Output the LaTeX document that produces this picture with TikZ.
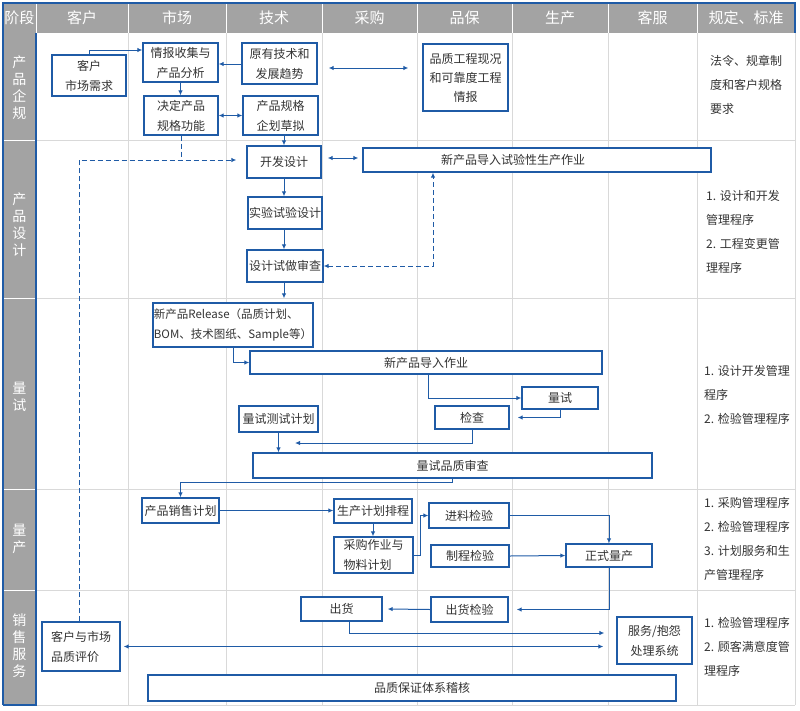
\documentclass[tikz,border=0pt]{standalone}
\usepackage{fontspec}
\setmainfont{Noto Sans CJK SC}
\usetikzlibrary{arrows.meta,calc}
\definecolor{bl}{HTML}{1F5BA6}
\definecolor{hdr}{HTML}{A3A3A3}
\definecolor{grd}{HTML}{D9D9D9}
\definecolor{txt}{HTML}{333333}
\newcommand\fsz[2]{\fontsize{#1}{#2}\selectfont}
\begin{document}
\begin{tikzpicture}[x=1pt,y=-1pt,
 box/.style={draw=bl,line width=1.3pt,fill=white,inner sep=0pt,align=center,font=\fsz{12}{20},text=txt},
 arr/.style={draw=bl,line width=1pt,-{Latex[length=5pt,width=4.5pt]}},
 darr/.style={draw=bl,line width=1pt,{Latex[length=5pt,width=4.5pt]}-{Latex[length=5pt,width=4.5pt]}},
 dsh/.style={dash pattern=on 5pt off 3pt},
 hd/.style={text=white,font=\fsz{15}{17}},
 stg/.style={text=white,font=\fsz{14}{17},align=center},
 reg/.style={anchor=north west,inner sep=0pt,align=left,font=\fsz{12}{24},text=txt}]
\useasboundingbox (0,0) rectangle (800,710);
% grid
\fill[hdr] (3,3) rectangle (795,33);
\fill[hdr] (3,33) rectangle (36,705);
\foreach \x in {128,226,322,417,512,608,697,795} \draw[grd,line width=1pt] (\x,33) -- (\x,705);
\foreach \y in {140,298,489,590,705} \draw[grd,line width=1pt] (36,\y) -- (795,\y);
\foreach \x in {36,128,226,322,417,512,608,697} \draw[white,line width=1pt] (\x,3) -- (\x,33);
\foreach \y in {140,298,489,590} \draw[white,line width=1pt] (3,\y) -- (36,\y);
\draw[bl,line width=1.5pt] (3,705) -- (3,3) -- (795,3) -- (795,33);
\draw[bl,line width=1.5pt] (36,33) -- (36,705) -- (3,705);
% header
\node[hd] (h0) at (19.5,18) {阶段};
\node[hd] (h1) at (82,18) {客户};
\node[hd] (h2) at (177,18) {市场};
\node[hd] (h3) at (274,18) {技术};
\node[hd] (h4) at (369.5,18) {采购};
\node[hd] (h5) at (464.5,18) {品保};
\node[hd] (h6) at (560,18) {生产};
\node[hd] (h7) at (652.5,18) {客服};
\node[hd] (h8) at (746,18) {规定、标准};
% stages
\node[stg] (s1) at (19.5,88) {产\\品\\企\\规};
\node[stg] (s2) at (19.5,225) {产\\品\\设\\计};
\node[stg] (s3) at (19.5,397) {量\\试};
\node[stg] (s4) at (19.5,539) {量\\产};
\node[stg] (s5) at (19.5,646) {销\\售\\服\\务};
% regulations
\node[reg] (r1) at (710,55) {法令、规章制\\度和客户规格\\要求};
\node[reg] (r2) at (706,190) {1. 设计和开发\\管理程序\\2. 工程变更管\\理程序};
\node[reg] (r3) at (704,365) {1. 设计开发管理\\程序\\2. 检验管理程序};
\node[reg] (r4) at (704,497) {1. 采购管理程序\\2. 检验管理程序\\3. 计划服务和生\\产管理程序};
\node[reg] (r5) at (704,617) {1. 检验管理程序\\2. 顾客满意度管\\理程序};
% row 1
\node[box,minimum width=74pt,minimum height=41pt] (n1) at (89,75.5) {客户\\市场需求};
\node[box,minimum width=75pt,minimum height=39pt] (n2) at (180.5,62.5) {情报收集与\\产品分析};
\node[box,minimum width=75pt,minimum height=41pt] (n3) at (279.5,63.5) {原有技术和\\发展趋势};
\node[box,minimum width=74pt,minimum height=39pt] (n4) at (181,115.5) {决定产品\\规格功能};
\node[box,minimum width=75pt,minimum height=39pt] (n5) at (280.5,115.5) {产品规格\\企划草拟};
\node[box,minimum width=85pt,minimum height=67pt,font=\fsz{12}{19}] (n6) at (465.5,77.5) {品质工程现况\\和可靠度工程\\情报};
% row 2
\node[box,minimum width=74pt,minimum height=32pt] (n7) at (284,162) {开发设计};
\node[box,minimum width=348pt,minimum height=24pt] (n8) at (537,160) {新产品导入试验性生产作业\hspace*{48pt}};
\node[box,minimum width=74pt,minimum height=32pt] (n9) at (285,213) {实验试验设计};
\node[box,minimum width=76pt,minimum height=32pt] (n10) at (285,266) {设计试做审查};
% row 3
\node[box,minimum width=160pt,minimum height=44pt,align=left,font=\fsz{11.5}{20}] (n11) at (233,325) {新产品Release（品质计划、\\BOM、技术图纸、Sample等）};
\node[box,minimum width=352pt,minimum height=23pt] (n12) at (426,362.5) {新产品导入作业};
\node[box,minimum width=76pt,minimum height=22pt] (n13) at (560,398) {量试};
\node[box,minimum width=74pt,minimum height=23pt] (n14) at (472,417.5) {检查};
\node[box,minimum width=79pt,minimum height=26pt] (n15) at (278.5,419) {量试测试计划};
\node[box,minimum width=399pt,minimum height=25pt] (n16) at (452.5,465.5) {量试品质审查};
% row 4
\node[box,minimum width=77pt,minimum height=25pt] (n17) at (180.5,510.5) {产品销售计划};
\node[box,minimum width=78pt,minimum height=24pt] (n18) at (373,511) {生产计划排程};
\node[box,minimum width=79pt,minimum height=36pt,align=left] (n19) at (373.5,555) {采购作业与\\物料计划};
\node[box,minimum width=80pt,minimum height=25pt] (n20) at (469,515.5) {进料检验};
\node[box,minimum width=78pt,minimum height=22pt] (n21) at (470,556) {制程检验};
\node[box,minimum width=86pt,minimum height=23pt] (n22) at (609,555.5) {正式量产};
% row 5
\node[box,minimum width=81pt,minimum height=24pt] (n23) at (341.5,609) {出货};
\node[box,minimum width=77pt,minimum height=25pt] (n24) at (469.5,609.5) {出货检验};
\node[box,minimum width=75pt,minimum height=47pt] (n25) at (654.5,640.5) {服务/抱怨\\处理系统};
\node[box,minimum width=78pt,minimum height=49pt,align=left] (n26) at (81,646.5) {客户与市场\\品质评价};
\node[box,minimum width=528pt,minimum height=26pt] (n27) at (412,688) {\hspace*{20pt}品质保证体系稽核};
\coordinate (c15) at (295,443);
% connectors row 1
\draw[arr] (n1.north) |- (n2.west |- 0,50);
\draw[arr] (n3.west |- 0,64) -- (n2.east |- 0,64);
\draw[arr] (n2.south) -- (n2.south |- n4.north);
\draw[darr] (n4.east) -- (n5.west);
\draw[darr] ($(n3.east |- 0,68)+(11,0)$) -- ($(n6.west |- 0,68)+(-14,0)$);
\draw[arr] (n7.north |- n5.south) -- (n7.north);
\draw[bl,line width=1pt,dsh] (n4.south) -- (n4.south |- 0,160);
\draw[arr,dsh] (n26.north -| 79,0) |- ($(n7.west |- 0,160)+(-10,0)$);
% row 2
\draw[darr] ($(n7.east |- 0,158)+(6,0)$) -- ($(n8.west |- 0,158)+(-4,0)$);
\draw[arr] (n7.south) -- (n7.south |- n9.north);
\draw[arr] (n9.south -| 284,0) -- (n10.north -| 284,0);
\draw[arr,shorten >=4pt] (n10.south -| 284,0) -- (n11.north -| 284,0);
\draw[darr,dsh] (n10.east) -| (n8.south -| 433,0);
% row 3
\draw[arr] (n11.south) |- (n12.west);
\draw[arr] (n12.south -| 428,0) |- (n13.west);
\draw[arr] (n13.south) |- ($(n14.east)+(8,0)$);
\draw[arr] (n14.south) |- (c15);
\draw[arr] (n15.south) -- (n15.south |- n16.north);
\draw[arr] (n16.south) -- ++(0,4) -| (n17.north);
% row 4
\draw[arr] (n17.east) -- (n17.east -| n18.west);
\draw[arr] (n18.south) -- (n18.south |- n19.north);
\draw[arr] (n19.east) -- ++(7,0) |- (n20.west);
\draw[arr] (n20.east) -| (n22.north);
\draw[arr] (n21.east) -- (n22.west);
\draw[arr] (n22.south) |- ($(n24.east)+(8,0)$);
% row 5
\draw[arr] (n24.west) -- ($(n23.east)+(5,0)$);
\draw[arr] (n23.south -| 349,0) |- ($(n25.west |- 0,633)+(-12,0)$);
\draw[darr] ($(n26.east)+(3,0)$) -- ($(n25.west |- n26.east)+(-13,0)$);
\end{tikzpicture}
\end{document}
